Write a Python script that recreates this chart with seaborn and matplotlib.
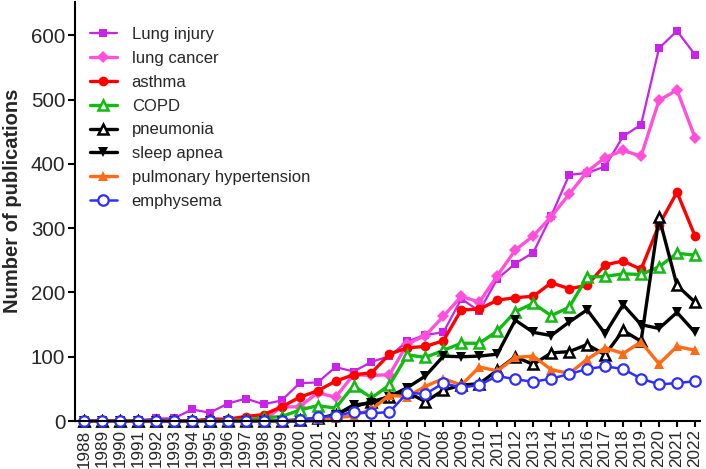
import matplotlib
matplotlib.use("Agg")
import matplotlib.pyplot as plt
import seaborn as sns
import numpy as np
import pandas as pd

years = list(range(1988, 2023))

lung_injury = [0, 0, 0, 1, 4, 4, 18, 13, 27, 35, 26, 32, 59, 60, 84, 77, 92, 101, 124, 134,
               138, 190, 171, 221, 245, 262, 319, 383, 386, 396, 443, 461, 580, 607, 570]
lung_cancer = [0, 0, 0, 0, 0, 0, 0, 0, 0, 0, 1, 22, 22, 44, 37, 72, 71, 72, 120, 133,
               163, 194, 185, 226, 266, 288, 318, 353, 388, 410, 421, 412, 499, 515, 441]
asthma = [0, 0, 0, 0, 0, 0, 0, 3, 3, 7, 10, 22, 37, 47, 62, 72, 75, 104, 114, 116,
          125, 173, 174, 188, 192, 194, 215, 206, 211, 243, 249, 236, 305, 356, 288]
copd = [0, 0, 0, 0, 0, 0, 0, 0, 1, 2, 5, 7, 17, 24, 20, 55, 36, 56, 103, 99,
        110, 121, 121, 140, 170, 183, 164, 177, 224, 225, 229, 228, 240, 261, 258]
pneumonia = [0, 0, 0, 0, 0, 0, 0, 0, 0, 0, 0, 0, 2, 4, 10, 22, 30, 38, 45, 30,
             48, 56, 58, 79, 100, 88, 106, 108, 119, 103, 141, 124, 317, 211, 185]
sleep_apnea = [0, 0, 0, 0, 0, 0, 0, 0, 0, 0, 0, 0, 0, 1, 9, 25, 28, 38, 52, 70,
               101, 100, 101, 104, 157, 138, 133, 154, 173, 136, 181, 150, 144, 169, 138]
pulm_hypertension = [0, 0, 0, 0, 0, 0, 0, 0, 0, 0, 0, 0, 2, 3, 5, 8, 18, 40, 38, 54,
                     66, 56, 84, 78, 99, 101, 80, 74, 96, 114, 105, 123, 89, 116, 110]
emphysema = [0, 0, 0, 0, 0, 0, 0, 0, 0, 0, 0, 0, 1, 6, 8, 14, 12, 14, 44, 42,
             59, 52, 56, 70, 65, 61, 66, 73, 81, 85, 81, 66, 57, 59, 62]

series_names = ["Lung injury", "lung cancer", "asthma", "COPD", "pneumonia",
                "sleep apnea", "pulmonary hypertension", "emphysema"]
series_values = [lung_injury, lung_cancer, asthma, copd, pneumonia,
                 sleep_apnea, pulm_hypertension, emphysema]

styles = {
    "Lung injury": dict(color="#C922EA", marker="s", ms=5.5, lw=1.6, mfc="#C922EA", mew=0),
    "lung cancer": dict(color="#FF4FDB", marker="D", ms=6, lw=2.4, mfc="#FF4FDB", mew=0),
    "asthma": dict(color="#FF0000", marker="o", ms=7, lw=2.4, mfc="#FF0000", mew=0),
    "COPD": dict(color="#11BB11", marker="^", ms=7, lw=2.4, mfc="white", mew=1.8),
    "pneumonia": dict(color="#000000", marker="^", ms=7, lw=2.4, mfc="white", mew=1.8),
    "sleep apnea": dict(color="#000000", marker="v", ms=7, lw=2.4, mfc="#000000", mew=0),
    "pulmonary hypertension": dict(color="#FF6A13", marker="^", ms=7, lw=2.4, mfc="#FF6A13", mew=0),
    "emphysema": dict(color="#2E2EFF", marker="o", ms=7.5, lw=1.8, mfc="white", mew=1.6),
}

sns.set_style("ticks")
plt.rcParams["font.family"] = ["Liberation Sans", "DejaVu Sans"]

fig = plt.figure(figsize=(7.06, 4.69), dpi=100)
ax = fig.add_axes([0.1062, 0.1023, 0.8853, 0.8935])

for name, vals in zip(series_names, series_values):
    st = styles[name]
    sns.lineplot(x=years, y=vals, ax=ax, label=name, color=st["color"],
                 marker=st["marker"], markersize=st["ms"], linewidth=st["lw"],
                 markerfacecolor=st["mfc"], markeredgecolor=st["color"],
                 markeredgewidth=st["mew"], clip_on=False)

ax.set_xlim(1987.5, 2022.28)
ax.set_ylim(0, 652)
ax.set_xticks(years)
ax.set_xticklabels([str(y) for y in years], rotation=90, fontsize=12.3)
ax.set_yticks([0, 100, 200, 300, 400, 500, 600])
ax.tick_params(axis="y", labelsize=14.8, width=1.5, length=4.8, color="black", pad=2.2)
ax.tick_params(axis="x", width=1.5, length=4.5, color="black", pad=1.5)
ax.set_ylabel("Number of publications", fontsize=14.5, fontweight="bold", labelpad=6)
ax.yaxis.label.set_y(0.525)
ax.set_xlabel("")
for s in ["top", "right"]:
    ax.spines[s].set_visible(False)
for s in ["left", "bottom"]:
    ax.spines[s].set_linewidth(1.5)
    ax.spines[s].set_color("black")

ax.legend(loc="upper left", bbox_to_anchor=(0.0, 0.976), frameon=False, fontsize=12,
          labelspacing=0.53, handlelength=1.6, handletextpad=0.9, borderaxespad=0.5)

fig.savefig("out.png", dpi=100)
